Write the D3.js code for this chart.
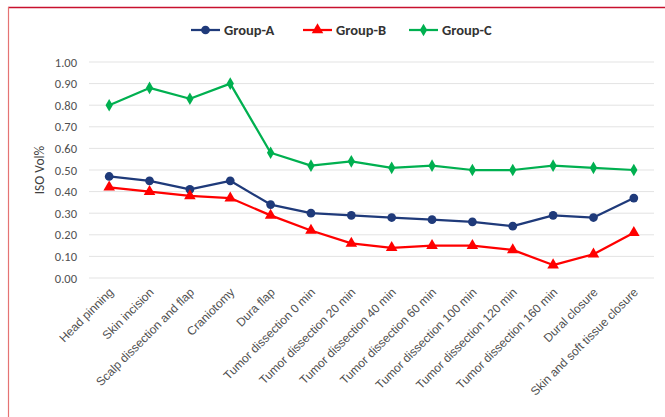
<!DOCTYPE html>
<html>
<head>
<meta charset="utf-8">
<script src="https://cdn.jsdelivr.net/npm/d3@7"></script>
<style>
  html, body { margin: 0; padding: 0; background: #fff; }
  svg { display: block; font-family: Carlito, Calibri, Lato, "Liberation Sans", sans-serif; }
</style>
</head>
<body>
<div id="chart"></div>
<script>
// ── Data ──────────────────────────────────────────────────────────────
const categories = [
  'Head pinning', 'Skin incision', 'Scalp dissection and flap', 'Craniotomy',
  'Dura flap', 'Tumor dissection 0 min', 'Tumor dissection 20 min',
  'Tumor dissection 40 min', 'Tumor dissection 60 min', 'Tumor dissection 100 min',
  'Tumor dissection 120 min', 'Tumor dissection 160 min', 'Dural closure',
  'Skin and soft tissue closure'
];
const groupA = [0.47, 0.45, 0.41, 0.45, 0.34, 0.30, 0.29, 0.28, 0.27, 0.26, 0.24, 0.29, 0.28, 0.37];
const groupB = [0.42, 0.40, 0.38, 0.37, 0.29, 0.22, 0.16, 0.14, 0.15, 0.15, 0.13, 0.06, 0.11, 0.21];
const groupC = [0.80, 0.88, 0.83, 0.90, 0.58, 0.52, 0.54, 0.51, 0.52, 0.50, 0.50, 0.52, 0.51, 0.50];
const yTicks = [0, 0.1, 0.2, 0.3, 0.4, 0.5, 0.6, 0.7, 0.8, 0.9, 1.0];

const series = [
  { name: 'Group-A', values: groupA, color: '#1f3a7a', marker: d3.symbolCircle, size: 60 },
  { name: 'Group-B', values: groupB, color: '#ff0000', marker: d3.symbolTriangle, size: 58 },
  { name: 'Group-C', values: groupC, color: '#00b050', marker: d3.symbolDiamond, size: 46 }
];

// ── Layout ────────────────────────────────────────────────────────────
const W = 665, H = 417;
const M = { top: 62, right: 11, bottom: 139, left: 89 };

const svg = d3.select('#chart').append('svg')
  .attr('width', W).attr('height', H);

// frame
svg.append('line').attr('x1', 8).attr('x2', W).attr('y1', 7.5).attr('y2', 7.5)
  .attr('stroke', '#c8102e').attr('stroke-width', 1.5);
svg.append('line').attr('x1', 8.5).attr('x2', 8.5).attr('y1', 7).attr('y2', H)
  .attr('stroke', '#e57373').attr('stroke-width', 1.2);

const x = d3.scaleBand().domain(categories).range([M.left, W - M.right]);
const y = d3.scaleLinear().domain([0, 1]).range([H - M.bottom, M.top]);
const cx = d => x(d) + x.bandwidth() / 2;

// gridlines
svg.append('g').selectAll('line').data(yTicks).join('line')
  .attr('x1', M.left).attr('x2', W - M.right)
  .attr('y1', d => y(d)).attr('y2', d => y(d))
  .attr('stroke', '#e3e3e3').attr('stroke-width', 1);

// y axis labels
const yAxis = svg.append('g')
  .attr('transform', `translate(${M.left},0)`)
  .call(d3.axisLeft(y).tickValues(yTicks).tickFormat(d3.format('.2f')).tickSize(0).tickPadding(12));
yAxis.select('.domain').remove();
yAxis.selectAll('text').attr('font-size', 12.5).attr('fill', '#505050')
  .style('font-family', 'Carlito, Calibri, Lato, sans-serif');

svg.append('text')
  .attr('transform', `translate(44,${(y(0) + y(1)) / 2}) rotate(-90)`)
  .attr('text-anchor', 'middle')
  .attr('font-size', 13.5).attr('fill', '#404040')
  .text('ISO Vol%');

// x axis labels
const xAxis = svg.append('g')
  .attr('transform', `translate(0,${y(0)})`)
  .call(d3.axisBottom(x).tickSize(0).tickPadding(0));
xAxis.select('.domain').remove();
xAxis.selectAll('text')
  .attr('font-size', 12).attr('fill', '#505050')
  .attr('text-anchor', 'end')
  .attr('dy', 0)
  .attr('transform', 'translate(5,15) rotate(-45)');

// lines + markers
const line = d3.line().x((d, i) => cx(categories[i])).y(d => y(d));
series.forEach(s => {
  svg.append('path').datum(s.values)
    .attr('d', line).attr('fill', 'none')
    .attr('stroke', s.color).attr('stroke-width', 2.25)
    .attr('stroke-linejoin', 'round');
  svg.append('g').selectAll('path').data(s.values).join('path')
    .attr('d', d3.symbol().type(s.marker).size(s.size))
    .attr('transform', (d, i) => `translate(${cx(categories[i])},${y(d)})`)
    .attr('fill', s.color);
});

// legend
const legendX = [191, 303, 409];
const legend = svg.append('g');
series.forEach((s, i) => {
  const g = legend.append('g').attr('transform', `translate(${legendX[i]},30)`);
  g.append('line').attr('x1', 0).attr('x2', 29)
    .attr('stroke', s.color).attr('stroke-width', 2.25);
  g.append('path').attr('d', d3.symbol().type(s.marker).size(s.size))
    .attr('transform', 'translate(14.5,0)').attr('fill', s.color);
  g.append('text').attr('x', 33).attr('y', 5)
    .attr('font-size', 14.5).attr('font-weight', 'bold').attr('fill', '#333')
    .text(s.name);
});
</script>
</body>
</html>
